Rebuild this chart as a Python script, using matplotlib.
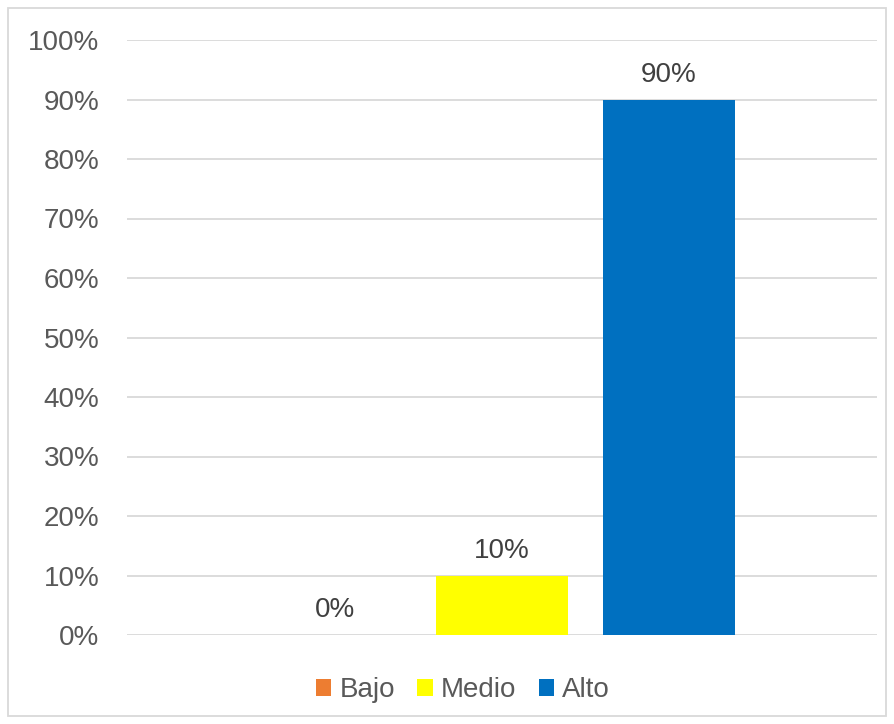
import numpy as np
import matplotlib.pyplot as plt
from matplotlib.patches import Rectangle
from matplotlib.ticker import PercentFormatter

plt.rcParams['font.family'] = ['Liberation Sans', 'DejaVu Sans']

#### Data
series = ['Bajo', 'Medio', 'Alto']
values = [0, 10, 90]
colors = ['#ED7D31', '#FFFF00', '#0070C0']
yticks = np.arange(0, 101, 10)

fig = plt.figure(figsize=(8.94, 7.24), dpi=100)
ax = fig.add_axes([127/894, 1-635/724, 750/894, 595/724])

# one bar per series, clustered around the single category
pos = np.arange(len(series)) - 1
for p, v, c, name in zip(pos, values, colors, series):
    ax.bar(p, v, width=0.79, color=c, label=name, zorder=2)
    ax.text(p, v + 2, f'{v}%', ha='center', va='bottom', fontsize=20, color='#404040')

ax.set_xlim(-2.245, 2.245)
ax.set_ylim(0, 100)
ax.set_yticks(yticks)
ax.yaxis.set_major_formatter(PercentFormatter(decimals=0))
ax.set_xticks([])
ax.grid(axis='y', color='#D9D9D9', linewidth=1.3, zorder=0)
for s in ax.spines.values():
    s.set_visible(False)
ax.tick_params(axis='y', length=0, pad=20, labelsize=20, labelcolor='#595959')

leg = fig.legend(loc='center', bbox_to_anchor=(463/894, 1-690/724), ncol=3, frameon=False,
                 fontsize=20, handlelength=0.55, handleheight=0.55, handletextpad=0.3,
                 columnspacing=0.8)
for t in leg.get_texts():
    t.set_color('#595959')

# outer chart border
fig.patches.append(Rectangle((8/894, 8/724), 878/894, 708/724, transform=fig.transFigure,
                             fill=False, edgecolor='#D9D9D9', linewidth=1.3))

fig.savefig('out.png', dpi=100)
